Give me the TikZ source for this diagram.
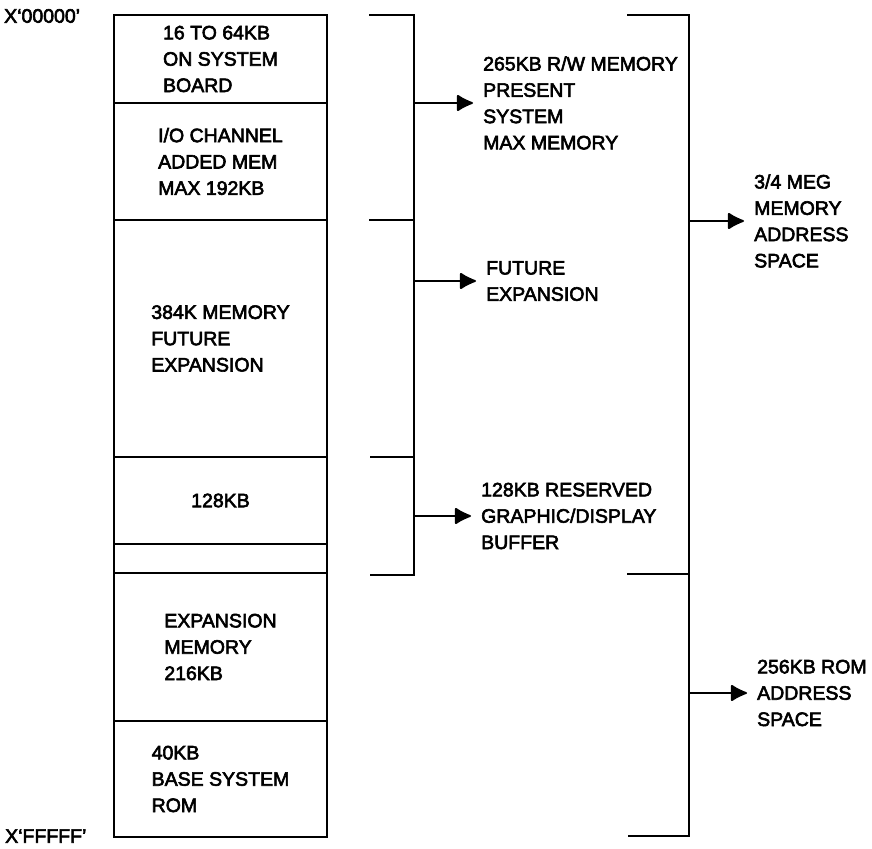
\documentclass[tikz,border=0pt]{standalone}
\usepackage{fontspec}
\setmainfont{Liberation Sans}[FakeBold=3]
\usepackage{tikz}
\usetikzlibrary{arrows.meta,positioning}

\begin{document}
\begin{tikzpicture}[x=1pt, y=-1pt,
    every node/.style={font=\fontsize{19.5}{26.3}\selectfont},
    block/.style={draw, line width=1.8pt, minimum width=213pt,
                  inner sep=0pt, outer sep=0pt, align=left},
    brace/.style={line width=1.8pt},
    link/.style={-{Latex[length=18pt,width=18pt,round]}, line width=1.8pt},
    lbl/.style={align=left, anchor=west, inner xsep=10pt, inner ysep=0pt},
    addr/.style={anchor=west, inner sep=0pt}]

    \useasboundingbox (0,0) rectangle (872,848);

    % memory map column
    \node[block, minimum height=88pt, anchor=north] (board) at (220.5,15) {16 TO 64KB\\ON SYSTEM\\BOARD};
    \node[block, minimum height=117pt, below=0pt of board] (iochan) {I/O CHANNEL\\ADDED MEM\\MAX 192KB};
    \node[block, minimum height=237pt, below=0pt of iochan] (future) {384K MEMORY\\FUTURE\\EXPANSION};
    \node[block, minimum height=87pt, below=0pt of future] (graph) {128KB};
    \node[block, minimum height=29pt, below=0pt of graph] (gap) {};
    \node[block, minimum height=148pt, below=0pt of gap] (expmem) {EXPANSION\\MEMORY\\216KB};
    \node[block, minimum height=116pt, below=0pt of expmem] (rom) {40KB\\BASE SYSTEM\\ROM};

    \node[addr] (first) at (4,16) {X‘00000’};
    \node[addr] (last) at (5,836) {X‘FFFFF’};

    % brackets
    \foreach \xa/\xb/\ya/\yb in {369/414/15/220, 370/414/220/457, 370/414/457/575,
                                 627/689/15/574, 628/689/574/836} {
        \draw[brace] (\xa,\ya) -| (\xb,\yb) -- (\xa,\yb);
    }
    \coordinate (ram) at (414,103);
    \coordinate (fut) at (414,281);
    \coordinate (disp) at (414,516);
    \coordinate (mem) at (689,221);
    \coordinate (romsp) at (689,693);

    \node[lbl] (ramlbl) at (473,103) {265KB R/W MEMORY\\PRESENT\\SYSTEM\\MAX MEMORY};
    \node[lbl] (futlbl) at (476,281) {FUTURE\\EXPANSION};
    \node[lbl] (displbl) at (471,516) {128KB RESERVED\\GRAPHIC/DISPLAY\\BUFFER};
    \node[lbl] (memlbl) at (744,221) {3/4 MEG\\MEMORY\\ADDRESS\\SPACE};
    \node[lbl] (romlbl) at (747,693) {256KB ROM\\ADDRESS\\SPACE};

    \draw[link] (ram) -- (ramlbl);
    \draw[link] (fut) -- (futlbl);
    \draw[link] (disp) -- (displbl);
    \draw[link] (mem) -- (memlbl);
    \draw[link] (romsp) -- (romlbl);
\end{tikzpicture}
\end{document}
